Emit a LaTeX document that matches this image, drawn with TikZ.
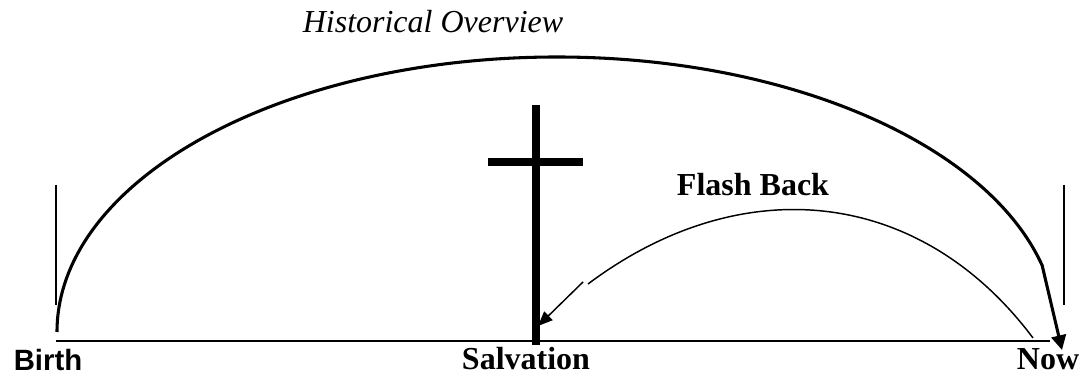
\documentclass[tikz,border=0pt]{standalone}
\usepackage{fontspec}
\setmainfont{Liberation Serif}
\newfontfamily\arialfont{Liberation Sans}
\usetikzlibrary{arrows.meta,calc}
\tikzset{
  timeline/.style={line width=1.9pt,line cap=butt},
  endbar/.style={line width=2.2pt},
  crossbeam/.style={line width=6pt},
  overviewarc/.style={line width=2.3pt,-{Triangle[length=11pt,width=11pt]}},
  flasharc/.style={line width=1.1pt},
  flasharrow/.style={line width=1.1pt,-{Triangle[length=11pt,width=9pt]}},
  serifbold/.style={font=\fontsize{24}{28}\selectfont\bfseries,inner sep=0pt,anchor=base},
  sansbold/.style={font=\arialfont\fontsize{22}{26}\selectfont\bfseries,inner sep=0pt,anchor=base}
}
\begin{document}
\begin{tikzpicture}[x=0.75pt,y=0.75pt]
  \useasboundingbox (0,0) rectangle (1087,377);

  % the time line and the two end bars
  \coordinate (lineL) at (56,36);
  \coordinate (lineR) at (1050,36);
  \draw[timeline] (lineL) -- (lineR);
  \coordinate (barLtop) at (56,192);
  \coordinate (barLbot) at (56,72);
  \coordinate (barRtop) at (1064,192);
  \coordinate (barRbot) at (1064,72);
  \draw[endbar] (barLtop) -- (barLbot);
  \draw[endbar] (barRtop) -- (barRbot);

  % the cross standing on the line
  \coordinate (crosstop) at (536,272);
  \coordinate (crossfoot) at (536,32);
  \coordinate (beamL) at (488,215);
  \coordinate (beamR) at (583,215);
  \draw[crossbeam] (crosstop) -- (crossfoot);
  \draw[crossbeam] (beamL) -- (beamR);

  % big arc over the whole line, ending in the arrow to now
  \coordinate (ovcentre) at (557,45);
  \coordinate (ovstart) at (57,45);
  \coordinate (nowtip) at (1062,27);
  \draw[overviewarc] (ovstart)
    arc[start angle=180,end angle=14,x radius=500,y radius=275] -- (nowtip);

  % flash back from now to the cross
  \coordinate (flashstart) at (1033,39);
  \coordinate (flashend) at (588,93);
  \coordinate (flashgo) at (583,95);
  \coordinate (salvtip) at (538,51);
  \draw[flasharc] (flashstart) .. controls (919,191) and (740,207) .. (flashend);
  \draw[flasharrow] (flashgo) -- (salvtip);

  % labels
  \node[font=\fontsize{24}{28}\selectfont\itshape,inner sep=0pt,anchor=base]
    (histlabel) at (433,344) {Historical Overview};
  \node[serifbold] (flashlabel) at (753,181) {Flash Back};
  \node[sansbold] (birthlabel) at (48,6) {Birth};
  \node[serifbold] (salvlabel) at (526,7) {Salvation};
  \node[serifbold] (nowlabel) at (1048,7) {Now};
\end{tikzpicture}
\end{document}
